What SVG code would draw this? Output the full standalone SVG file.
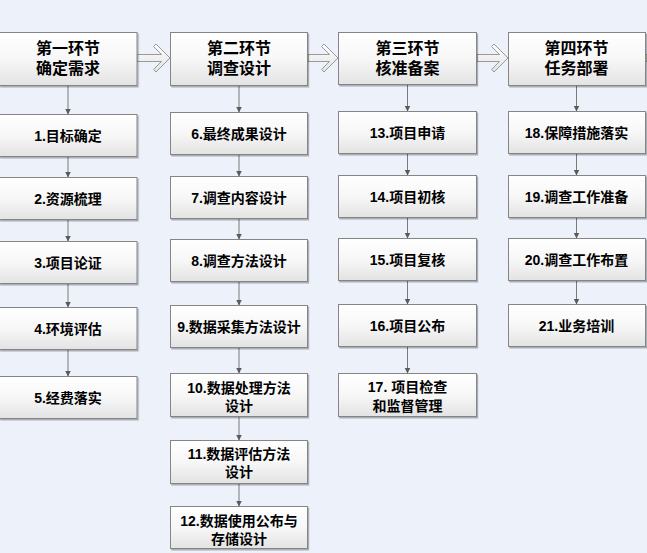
<svg xmlns="http://www.w3.org/2000/svg" width="647" height="553" viewBox="0 0 647 553">
<defs>
<linearGradient id="boxg" x1="0" y1="0" x2="0" y2="1">
<stop offset="0" stop-color="#ffffff"/>
<stop offset="0.5" stop-color="#f7f7f7"/>
<stop offset="1" stop-color="#e3e3e3"/>
</linearGradient>
<linearGradient id="arrg" x1="0" y1="0" x2="0" y2="1">
<stop offset="0" stop-color="#ffffff"/>
<stop offset="1" stop-color="#e2e2e2"/>
</linearGradient>
<marker id="ah" markerUnits="userSpaceOnUse" markerWidth="7" markerHeight="7" refX="6" refY="3" orient="auto">
<path d="M0,0 L6,3 L0,6 Z" fill="#5a5a5a"/>
</marker>
<filter id="sh" x="-5%" y="-5%" width="115%" height="125%">
<feDropShadow dx="1.2" dy="1.5" stdDeviation="0.6" flood-color="#000" flood-opacity="0.28"/>
</filter>
</defs>
<style>
.box{fill:url(#boxg);stroke:#858585;stroke-width:1;filter:url(#sh)}
.t{font-family:"Liberation Sans","Noto Sans CJK SC",sans-serif;font-weight:bold;font-size:14px;fill:#000;text-anchor:middle}
.h{font-size:16px}
.c{fill:none;stroke:#7a7a7a;stroke-width:1;marker-end:url(#ah)}
.ba{fill:url(#arrg);stroke:#9a9a9a;stroke-width:1}
</style>
<rect x="0" y="0" width="647" height="553" fill="#edf1f9"/>

<g id="connectors">
<path class="ba" d="M137,54.5 H161.5 L153.5,46.5 L156,44 L170,58 L156,72 L153.5,69.5 L161.5,61.5 H137 Z"/>
<path class="ba" d="M308,54.5 H329.5 L321.5,46.5 L324,44 L338,58 L324,72 L321.5,69.5 L329.5,61.5 H308 Z"/>
<path class="ba" d="M477,54.5 H499.5 L491.5,46.5 L494,44 L508,58 L494,72 L491.5,69.5 L499.5,61.5 H477 Z"/>
<path class="ba" d="M646,54.5 H660 V61.5 H646 Z"/>
<line class="c" x1="68" y1="85.5" x2="68" y2="114.5"/>
<line class="c" x1="68" y1="156.5" x2="68" y2="177.5"/>
<line class="c" x1="68" y1="219.5" x2="68" y2="241.5"/>
<line class="c" x1="68" y1="283.5" x2="68" y2="307.5"/>
<line class="c" x1="68" y1="349.5" x2="68" y2="376.5"/>
<line class="c" x1="239" y1="85.5" x2="239" y2="112.5"/>
<line class="c" x1="239" y1="154.5" x2="239" y2="176.5"/>
<line class="c" x1="239" y1="218.5" x2="239" y2="239.5"/>
<line class="c" x1="239" y1="281.5" x2="239" y2="305.5"/>
<line class="c" x1="239" y1="347.5" x2="239" y2="373.5"/>
<line class="c" x1="239" y1="416.5" x2="239" y2="440.5"/>
<line class="c" x1="239" y1="483.5" x2="239" y2="506.5"/>
<line class="c" x1="407.5" y1="84.5" x2="407.5" y2="111.5"/>
<line class="c" x1="407.5" y1="153.5" x2="407.5" y2="175.5"/>
<line class="c" x1="407.5" y1="217.5" x2="407.5" y2="238.5"/>
<line class="c" x1="407.5" y1="280.5" x2="407.5" y2="304.5"/>
<line class="c" x1="407.5" y1="346.5" x2="407.5" y2="373.5"/>
<line class="c" x1="576.5" y1="85.5" x2="576.5" y2="111.5"/>
<line class="c" x1="576.5" y1="153.5" x2="576.5" y2="175.5"/>
<line class="c" x1="576.5" y1="217.5" x2="576.5" y2="238.5"/>
<line class="c" x1="576.5" y1="280.5" x2="576.5" y2="304.5"/>
</g>

<g id="h1"><rect class="box" x="-0.5" y="32.5" width="137.5" height="53"/><text class="t h" x="68" y="54">第一环节</text><text class="t h" x="68" y="73.5">确定需求</text></g>
<g id="h2"><rect class="box" x="170.5" y="32.5" width="137" height="53"/><text class="t h" x="239" y="54">第二环节</text><text class="t h" x="239" y="73.5">调查设计</text></g>
<g id="h3"><rect class="box" x="338.5" y="32.5" width="138" height="52"/><text class="t h" x="407.5" y="54">第三环节</text><text class="t h" x="407.5" y="73.5">核准备案</text></g>
<g id="h4"><rect class="box" x="508.5" y="32.5" width="137" height="53"/><text class="t h" x="576.5" y="54">第四环节</text><text class="t h" x="576.5" y="73.5">任务部署</text></g>

<g id="n1"><rect class="box" x="-0.5" y="114.5" width="137.5" height="42"/><text class="t" x="68" y="140.5">1.目标确定</text></g>
<g id="n2"><rect class="box" x="-0.5" y="177.5" width="137.5" height="42"/><text class="t" x="68" y="203.5">2.资源梳理</text></g>
<g id="n3"><rect class="box" x="-0.5" y="241.5" width="137.5" height="42"/><text class="t" x="68" y="267.5">3.项目论证</text></g>
<g id="n4"><rect class="box" x="-0.5" y="307.5" width="137.5" height="42"/><text class="t" x="68" y="333.5">4.环境评估</text></g>
<g id="n5"><rect class="box" x="-0.5" y="376.5" width="137.5" height="42"/><text class="t" x="68" y="402.5">5.经费落实</text></g>

<g id="n6"><rect class="box" x="170.5" y="112.5" width="137" height="42"/><text class="t" x="239" y="138.5">6.最终成果设计</text></g>
<g id="n7"><rect class="box" x="170.5" y="176.5" width="137" height="42"/><text class="t" x="239" y="202.5">7.调查内容设计</text></g>
<g id="n8"><rect class="box" x="170.5" y="239.5" width="137" height="42"/><text class="t" x="239" y="265.5">8.调查方法设计</text></g>
<g id="n9"><rect class="box" x="170.5" y="305.5" width="137" height="42"/><text class="t" x="239" y="331.5">9.数据采集方法设计</text></g>
<g id="n10"><rect class="box" x="170.5" y="373.5" width="137" height="43"/><text class="t" x="239" y="392.5">10.数据处理方法</text><text class="t" x="239" y="410.5">设计</text></g>
<g id="n11"><rect class="box" x="170.5" y="440.5" width="137" height="43"/><text class="t" x="239" y="458.5">11.数据评估方法</text><text class="t" x="239" y="476.5">设计</text></g>
<g id="n12"><rect class="box" x="170.5" y="506.5" width="137" height="42"/><text class="t" x="239" y="526">12.数据使用公布与</text><text class="t" x="239" y="544">存储设计</text></g>

<g id="n13"><rect class="box" x="338.5" y="111.5" width="138" height="42"/><text class="t" x="407.5" y="137.5">13.项目申请</text></g>
<g id="n14"><rect class="box" x="338.5" y="175.5" width="138" height="42"/><text class="t" x="407.5" y="201.5">14.项目初核</text></g>
<g id="n15"><rect class="box" x="338.5" y="238.5" width="138" height="42"/><text class="t" x="407.5" y="264.5">15.项目复核</text></g>
<g id="n16"><rect class="box" x="338.5" y="304.5" width="138" height="42"/><text class="t" x="407.5" y="330.5">16.项目公布</text></g>
<g id="n17"><rect class="box" x="338.5" y="373.5" width="138" height="43"/><text class="t" x="407.5" y="392">17. 项目检查</text><text class="t" x="407.5" y="411">和监督管理</text></g>

<g id="n18"><rect class="box" x="508.5" y="111.5" width="137" height="42"/><text class="t" x="576.5" y="137.5">18.保障措施落实</text></g>
<g id="n19"><rect class="box" x="508.5" y="175.5" width="137" height="42"/><text class="t" x="576.5" y="201.5">19.调查工作准备</text></g>
<g id="n20"><rect class="box" x="508.5" y="238.5" width="137" height="42"/><text class="t" x="576.5" y="264.5">20.调查工作布置</text></g>
<g id="n21"><rect class="box" x="508.5" y="304.5" width="137" height="42"/><text class="t" x="576.5" y="330.5">21.业务培训</text></g>
</svg>
